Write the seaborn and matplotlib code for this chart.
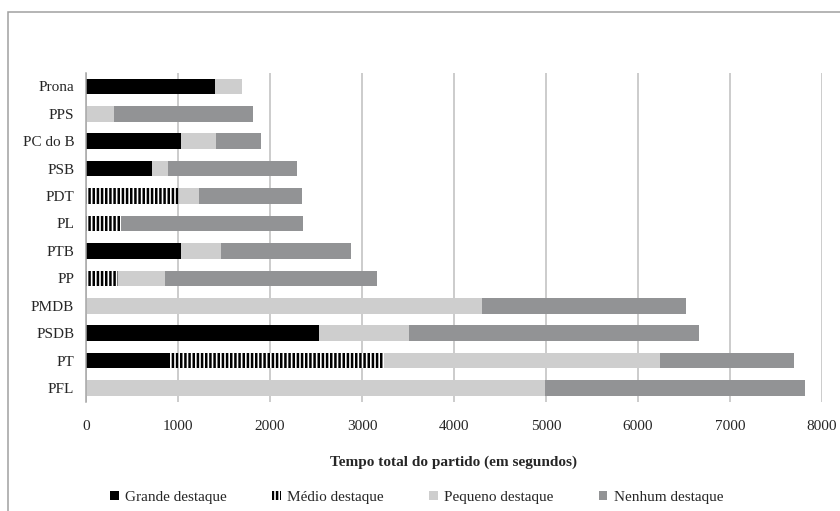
#!/usr/bin/env python3
# -*- coding: utf-8 -*-
"""
Tempo total de cada partido, por nivel de destaque (barras empilhadas horizontais)
"""

import matplotlib

matplotlib.use("Agg")
import matplotlib.pyplot as plt
from matplotlib.patches import Patch, Rectangle
import seaborn as sns

# [data]
parties = ["Prona", "PPS", "PC do B", "PSB", "PDT", "PL", "PTB", "PP",
           "PMDB", "PSDB", "PT", "PFL"]
grande = [1407, 0, 1037, 721, 0, 0, 1037, 0, 0, 2528, 906, 0]
medio = [0, 0, 0, 0, 1012, 381, 0, 347, 0, 0, 2332, 0]
pequeno = [294, 308, 381, 175, 221, 0, 425, 516, 4300, 978, 3000, 4987]
nenhum = [0, 1512, 479, 1393, 1110, 1973, 1414, 2296, 2220, 3154, 1459, 2829]
x_ticks = [0, 1000, 2000, 3000, 4000, 5000, 6000, 7000, 8000]
legend_labels = ["Grande destaque", "Médio destaque", "Pequeno destaque", "Nenhum destaque"]

BLACK = "#000000"
LIGHT = "#cecece"
GRAY = "#929395"
GRID = "#bfbfbf"
HATCH = "||||"

sns.set_style("white")
plt.rcParams["font.family"] = ["Liberation Serif", "DejaVu Serif"]
plt.rcParams["hatch.linewidth"] = 1.8


def cumulative(*series):
    return [sum(vals) for vals in zip(*series)]


def plot_stacks(ax):
    # draws the cumulative totals from the longest to the shortest, each layer on top
    layers = [
        (cumulative(grande, medio, pequeno, nenhum), dict(color=GRAY)),
        (cumulative(grande, medio, pequeno), dict(color=LIGHT)),
        (cumulative(grande, medio), dict(color="white", edgecolor=BLACK, hatch=HATCH)),
        (grande, dict(color=BLACK)),
    ]
    for values, style in layers:
        sns.barplot(
            x=values,
            y=parties,
            orient="h",
            width=0.57,
            saturation=1,
            linewidth=0,
            ax=ax,
            **style,
        )


def main():
    fig = plt.figure(figsize=(8.4, 5.11), dpi=100)
    ax = fig.add_axes([86 / 840, 1 - 401.7 / 511, 736 / 840, 329 / 511])
    ax.set_axisbelow(True)
    plot_stacks(ax)

    ax.set_xlim(0, 8000)
    ax.set_xticks(x_ticks)
    ax.set_xticklabels([str(t) for t in x_ticks])
    ax.grid(axis="x", color=GRID, linewidth=1.1)
    ax.grid(axis="y", visible=False)
    for side in ["top", "right", "bottom"]:
        ax.spines[side].set_visible(False)
    ax.spines["left"].set_color("#a6a6a6")
    ax.spines["left"].set_linewidth(1.1)
    ax.tick_params(axis="y", length=0, pad=8.5, labelsize=11)
    ax.tick_params(axis="x", length=0, pad=13, labelsize=11)
    ax.set_ylabel("")
    ax.set_xlabel("Tempo total do partido (em segundos)", fontsize=11, fontweight="bold")
    ax.xaxis.set_label_coords(0.5, -0.165)

    handles = [
        Patch(facecolor=BLACK, edgecolor="none"),
        Patch(facecolor="white", edgecolor=BLACK, linewidth=0, hatch=HATCH),
        Patch(facecolor=LIGHT, edgecolor="none"),
        Patch(facecolor=GRAY, edgecolor="none"),
    ]
    fig.legend(
        handles,
        legend_labels,
        loc="center",
        bbox_to_anchor=(0.496, 0.027),
        ncol=4,
        frameon=False,
        fontsize=11,
        handlelength=0.55,
        handleheight=0.6,
        handletextpad=0.4,
        columnspacing=3.0,
    )

    # outer chart frame (runs off the right and bottom of the picture)
    fig.patches.append(
        Rectangle(
            (7.5 / 840, -0.05),
            1.1,
            1.05 - 12 / 511,
            transform=fig.transFigure,
            fill=False,
            edgecolor="#a0a0a0",
            linewidth=1.1,
            clip_on=False,
        )
    )

    fig.savefig("out.png", dpi=100)
    print("> Output image saved as : out.png")


if __name__ == "__main__":
    main()
